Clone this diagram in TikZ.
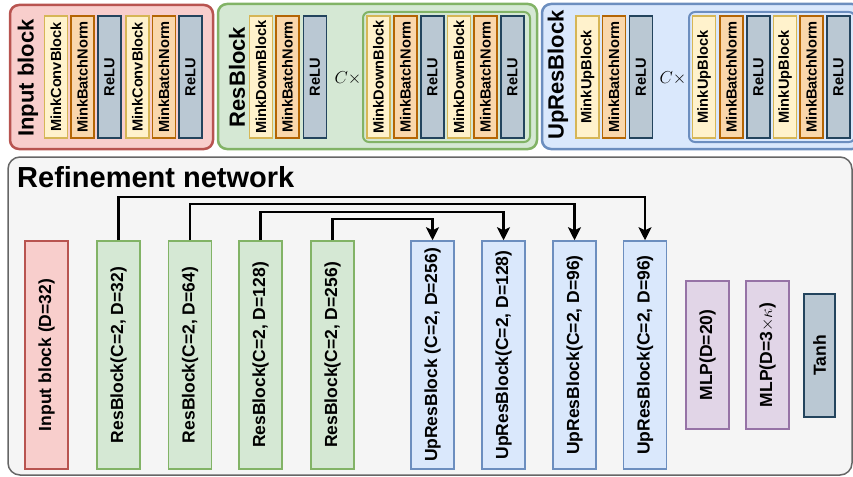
\documentclass[tikz,border=0pt]{standalone}
\usepackage{fontspec}
\setmainfont{Liberation Sans}
\usetikzlibrary{arrows.meta}

\definecolor{redfill}{HTML}{F8CECC}
\definecolor{redline}{HTML}{B85450}
\definecolor{greenfill}{HTML}{D5E8D4}
\definecolor{greenline}{HTML}{82B366}
\definecolor{bluefill}{HTML}{DAE8FC}
\definecolor{blueline}{HTML}{6C8EBF}
\definecolor{purplefill}{HTML}{E1D5E7}
\definecolor{purpleline}{HTML}{9673A6}
\definecolor{yellowfill}{HTML}{FFF2CC}
\definecolor{yellowline}{HTML}{D6B656}
\definecolor{orangefill}{HTML}{FAD7AC}
\definecolor{orangeline}{HTML}{B46504}
\definecolor{slatefill}{HTML}{BAC8D3}
\definecolor{slateline}{HTML}{23445D}
\definecolor{grayfill}{HTML}{F5F5F5}
\definecolor{grayline}{HTML}{666666}

\begin{document}
\begin{tikzpicture}[x=1pt,y=-1pt,
  group/.style={draw,rounded corners=9pt,line width=2.5pt,inner sep=0pt},
  subgroup/.style={draw,rounded corners=6pt,line width=2pt,inner sep=0pt},
  minibar/.style={draw,line width=1.8pt,rotate=90,inner sep=0pt,minimum width=122,minimum height=23,font=\bfseries\fontsize{14.6}{16}\selectfont},
  bigbar/.style={draw,line width=1.5pt,rotate=90,inner sep=0pt,minimum height=43,font=\bfseries\fontsize{17.5}{20}\selectfont},
  conv/.style={fill=yellowfill,draw=yellowline},
  bn/.style={fill=orangefill,draw=orangeline},
  relu/.style={fill=slatefill,draw=slateline},
  inred/.style={fill=redfill,draw=redline},
  resgreen/.style={fill=greenfill,draw=greenline},
  upblue/.style={fill=bluefill,draw=blueline},
  mlppurple/.style={fill=purplefill,draw=purpleline},
  grouplabel/.style={rotate=90,inner sep=0pt,font=\bfseries\fontsize{22}{26}\selectfont},
  times/.style={inner sep=0pt,font=\fontsize{17}{20}\selectfont},
  skip/.style={line width=2.2pt,-{Stealth[length=13pt,width=13pt,inset=3pt]}}
]
\useasboundingbox (0,0) rectangle (853,476);
\clip (0,0) rectangle (853,476);

\node[group,inred,minimum width=203,minimum height=144] (inputgrp) at (111.5,77) {};
\node[group,resgreen,minimum width=319,minimum height=145] (resgrp) at (377.5,76.5) {};
\node[subgroup,resgreen,minimum width=167,minimum height=130] (ressub) at (446.5,77) {};
\node[group,upblue,minimum width=319,minimum height=145] (upgrp) at (701.5,76.5) {};
\node[subgroup,upblue,minimum width=166,minimum height=130] (upsub) at (772,77) {};

\node[grouplabel] (inputlbl) at (28,78) {Input block};
\node[grouplabel] (reslbl) at (237,77) {ResBlock};
\node[grouplabel] (uplbl) at (558,75) {UpResBlock};

\foreach \x/\kind/\txt [count=\i] in {56/conv/MinkConvBlock, 82.5/bn/MinkBatchNorm, 109.5/relu/ReLU,
                                       137.5/conv/MinkConvBlock, 164/bn/MinkBatchNorm, 190.5/relu/ReLU}
{
	\node[minibar,\kind] (in\i) at (\x,77) {\txt};
};

\foreach \x/\kind/\txt [count=\i] in {261/conv/MinkDownBlock, 287.5/bn/MinkBatchNorm, 315/relu/ReLU,
                                       378.5/conv/MinkDownBlock, 405.5/bn/MinkBatchNorm, 432.5/relu/ReLU,
                                       459/conv/MinkDownBlock, 485.5/bn/MinkBatchNorm, 512.5/relu/ReLU}
{
	\node[minibar,\kind] (rs\i) at (\x,77) {\txt};
};

\foreach \x/\kind/\txt [count=\i] in {587.5/conv/MinkUpBlock, 614/bn/MinkBatchNorm, 641/relu/ReLU,
                                       704/conv/MinkUpBlock, 731.5/bn/MinkBatchNorm, 758.5/relu/ReLU,
                                       785/conv/MinkUpBlock, 811.5/bn/MinkBatchNorm, 838.5/relu/ReLU}
{
	\node[minibar,\kind] (us\i) at (\x,77) {\txt};
};

\node[times] (rstimes) at (348,78) {$C\times$};
\node[times] (ustimes) at (673,78) {$C\times$};

\node[draw=grayline,fill=grayfill,line width=1.5pt,rounded corners=12pt,inner sep=0pt,
      minimum width=844,minimum height=318] (refine) at (430,316) {};
\node[anchor=west,inner sep=0pt,font=\bfseries\fontsize{29}{32}\selectfont] (title) at (17,177) {Refinement network};

\foreach \x/\kind/\txt/\name in {46.5/inred/{Input block (D=32)}/inp,
                                  118.5/resgreen/{ResBlock(C=2, D=32)}/res1,
                                  190/resgreen/{ResBlock(C=2, D=64)}/res2,
                                  260.5/resgreen/{ResBlock(C=2, D=128)}/res3,
                                  332.5/resgreen/{ResBlock(C=2, D=256)}/res4,
                                  432.5/upblue/{UpResBlock (C=2, D=256)}/up1,
                                  503.5/upblue/{UpResBlock(C=2, D=128)}/up2,
                                  574.5/upblue/{UpResBlock(C=2, D=96)}/up3,
                                  645/upblue/{UpResBlock(C=2, D=96)}/up4}
{
	\node[bigbar,\kind,minimum width=228] (\name) at (\x,355) {\txt};
};

\node[bigbar,mlppurple,minimum width=148] (mlp1) at (707.5,355) {MLP(D=20)};
\node[bigbar,mlppurple,minimum width=148] (mlp2) at (767.5,355) {MLP(D=3$\times\kappa$)};
\node[bigbar,relu,minimum width=123,minimum height=31] (tanh) at (819.5,355.5) {Tanh};

\coordinate (h1) at (0,197);
\coordinate (h2) at (0,204);
\coordinate (h3) at (0,212);
\coordinate (h4) at (0,219);

\foreach \a/\b/\i in {res1/up4/1, res2/up3/2, res3/up2/3, res4/up1/4}
{
	\draw[skip] (\a.east) |- (h\i -| \b.east) -- (\b.east);
};
\end{tikzpicture}
\end{document}
